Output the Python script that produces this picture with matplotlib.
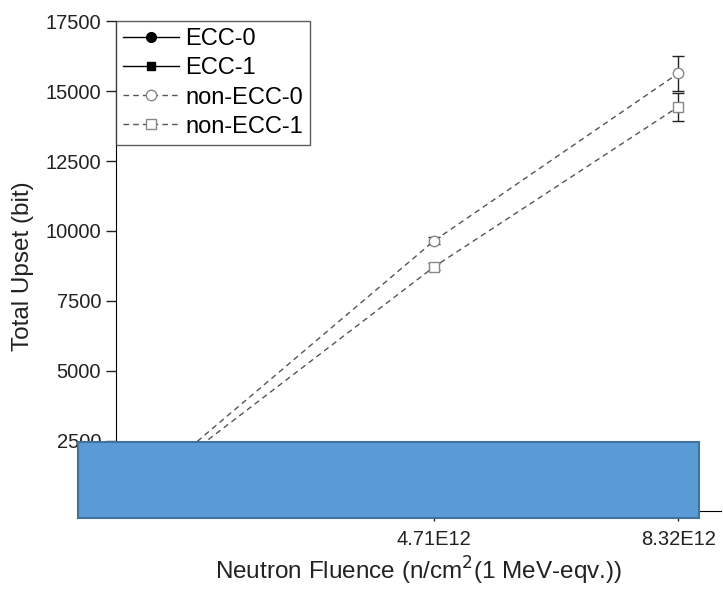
import numpy as np
import matplotlib
matplotlib.use("Agg")
import matplotlib.pyplot as plt
from matplotlib.container import ErrorbarContainer
from matplotlib.patches import Rectangle

plt.rcParams["font.family"] = ["Liberation Sans", "DejaVu Sans"]

# fluence points (n/cm^2) and upset counts
fluence = [0, 4.71e12, 8.32e12]
ecc_0 = [0, 60, 110]
ecc_1 = [0, 40, 80]
non_ecc_0 = [0, 9650, 15640]
non_ecc_1 = [0, 8720, 14440]
non_ecc_0_err = [0, 120, 630]
non_ecc_1_err = [0, 120, 510]

fig = plt.figure(figsize=(7.23, 5.9), dpi=100)
ax = fig.add_axes([0.160, 0.1347, 0.837, 0.8292])

ax.plot(fluence, ecc_0, "-o", color="black", lw=1, ms=7, label="ECC-0")
ax.plot(fluence, ecc_1, "-s", color="black", lw=1, ms=6, label="ECC-1")
ax.errorbar(fluence, non_ecc_0, yerr=non_ecc_0_err, fmt="--o", color="#555555",
            ecolor="#222222", elinewidth=1, capsize=4.5, lw=1, ms=7.5,
            mfc="white", mec="#888888", dashes=(4, 3), label="non-ECC-0")
ax.errorbar(fluence, non_ecc_1, yerr=non_ecc_1_err, fmt="--s", color="#555555",
            ecolor="#222222", elinewidth=1, capsize=4.5, lw=1, ms=7,
            mfc="white", mec="#888888", dashes=(4, 3), label="non-ECC-1")

ax.set_xlim(0, 8.95e12)
ax.set_ylim(0, 17500)
ax.set_xticks([4.71e12, 8.32e12])
ax.set_xticklabels(["4.71E12", "8.32E12"])
ax.set_yticks(np.arange(2500, 17501, 2500))
ax.tick_params(direction="out", length=7, width=1, labelsize=14.5, colors="#222222")
ax.tick_params(axis="x", pad=7)
for side in ["top", "right"]:
    ax.spines[side].set_visible(False)

ax.set_xlabel("Neutron Fluence (n/cm$^2$(1 MeV-eqv.))", fontsize=17.5, color="#222222",
              va="baseline")
ax.xaxis.set_label_coords(0.5, -0.142)
ax.set_ylabel("Total Upset (bit)", fontsize=17.5, color="#222222", labelpad=8)

# legend shows the plain line + marker, without the error bars
handles, labels = ax.get_legend_handles_labels()
handles = [h[0] if isinstance(h, ErrorbarContainer) else h for h in handles]
leg = ax.legend(handles, labels, loc="upper left", bbox_to_anchor=(0, 1),
                borderaxespad=0, fontsize=17, frameon=True, fancybox=False,
                handlelength=2.4, labelspacing=0.3, handletextpad=0.25,
                borderpad=0.3)
leg.get_frame().set_edgecolor("#333333")
leg.get_frame().set_linewidth(1)

# filled box over the lower band of the figure
fig.patches.append(Rectangle((0.1079, 0.122), 0.859, 0.1288, transform=fig.transFigure,
                             facecolor="#5B9BD5", edgecolor="#41719C", lw=1.5, zorder=10))

fig.savefig("out.png", dpi=100)
